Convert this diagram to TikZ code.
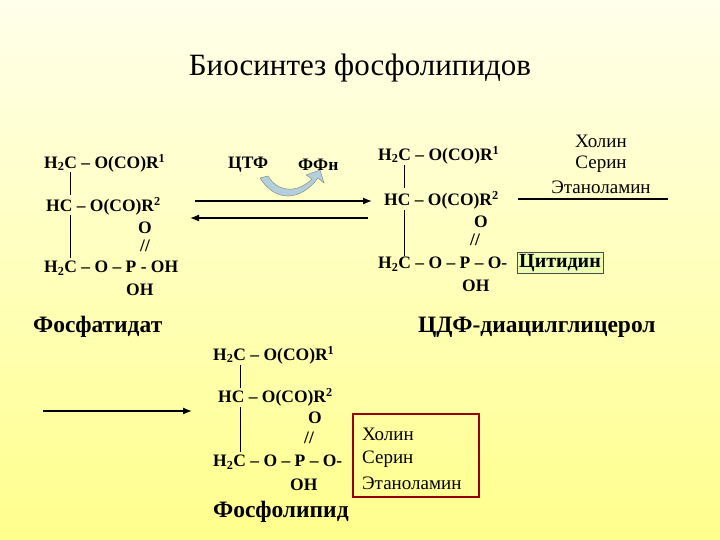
\documentclass[tikz,border=0pt]{standalone}
\usepackage{fontspec}
\setmainfont{Liberation Serif}
\usetikzlibrary{arrows.meta}
\begin{document}
\begin{tikzpicture}[x=1pt,y=-1pt,
 f/.style={font=\bfseries\fontsize{17.5}{19}\selectfont,inner sep=0pt,anchor=west},
 n/.style={font=\fontsize{19}{21}\selectfont,inner sep=0pt},
 big/.style={font=\bfseries\fontsize{23.5}{25}\selectfont,inner sep=0pt,anchor=west},
 bond/.style={line width=0.6pt},
 rx/.style={line width=1.3pt,-{Latex[length=9pt,width=7pt]}}]
\shade[top color=white!92!yellow,bottom color=yellow!45!white] (0,0) rectangle (720,540);
\useasboundingbox (0,0) rectangle (720,540);
\node[font=\fontsize{31}{33}\selectfont] (title) at (360,68) {Биосинтез фосфолипидов};
% left molecule
\node[f] (a1) at (44,163) {H\textsubscript{2}C – O(CO)R\textsuperscript{1}};
\node[f] (a2) at (46,206) {HC – O(CO)R\textsuperscript{2}};
\node[f] (a3) at (138,228) {O};
\node[f] (a4) at (140,246) {//};
\node[f] (a5) at (44,268) {H\textsubscript{2}C – O – P - OH};
\node[f] (a6) at (126,290) {OH};
\draw[bond] (70,172) -- (70,195);
\draw[bond] (70,215) -- (70,258);
% reagents
\node[f] (ctf) at (228,165) {ЦТФ};
\node[f] (ffn) at (298,165) {ФФн};
\fill[gray!60!cyan!50!white,draw=gray] (260,178) .. controls (275,202) and (300,202) .. (318,178) -- (324,183) -- (320,170) -- (306,175) -- (312,179) .. controls (298,193) and (278,193) .. (268,176) -- cycle;
\coordinate (f1) at (195,201); \coordinate (f2) at (372,201);
\coordinate (b1) at (368,218); \coordinate (b2) at (190,218);
\draw[rx] (f1) -- (f2);
\draw[rx] (b1) -- (b2);
% right molecule
\node[f] (c1) at (378,155) {H\textsubscript{2}C – O(CO)R\textsuperscript{1}};
\node[f] (c2) at (384,200) {HC – O(CO)R\textsuperscript{2}};
\node[f] (c3) at (474,222) {O};
\node[f] (c4) at (470,240) {//};
\node[f] (c5) at (378,264) {H\textsubscript{2}C – O – P – O-};
\node[f] (c6) at (462,286) {OH};
\draw[bond] (404,165) -- (404,188);
\draw[bond] (404,210) -- (404,256);
\node[f,font=\bfseries\fontsize{20}{22}\selectfont,fill=green!25!yellow!30!white,draw=black!70,inner sep=2pt,anchor=west] (cyt) at (517,263) {Цитидин};
\node[n] (h1) at (601,141) {Холин};
\node[n] (h2) at (601,164) {Серин};
\node[n] (h3) at (601,187) {Этаноламин};
\coordinate (l1) at (518,199); \coordinate (l2) at (668,199);
\draw[line width=1.3pt] (l1) -- (l2);
\node[big] (fos) at (33,327) {Фосфатидат};
\node[big] (cdf) at (418,327) {ЦДФ-диацилглицерол};
% bottom
\coordinate (g1) at (43,411); \coordinate (g2) at (192,411);
\draw[rx] (g1) -- (g2);
\node[f] (d1) at (213,355) {H\textsubscript{2}C – O(CO)R\textsuperscript{1}};
\node[f] (d2) at (218,397) {HC – O(CO)R\textsuperscript{2}};
\node[f] (d3) at (308,418) {O};
\node[f] (d4) at (304,438) {//};
\node[f] (d5) at (213,462) {H\textsubscript{2}C – O – P – O-};
\node[f] (d6) at (290,485) {OH};
\draw[bond] (240,365) -- (240,388);
\draw[bond] (240,407) -- (240,452);
\node[big] (fl) at (213,512) {Фосфолипид};
\draw[draw=red!60!black,line width=1.5pt] (353,414) rectangle (479,497);
\node[n,anchor=west] (e1) at (362,434) {Холин};
\node[n,anchor=west] (e2) at (362,459) {Серин};
\node[n,anchor=west] (e3) at (362,483) {Этаноламин};
\end{tikzpicture}
\end{document}
